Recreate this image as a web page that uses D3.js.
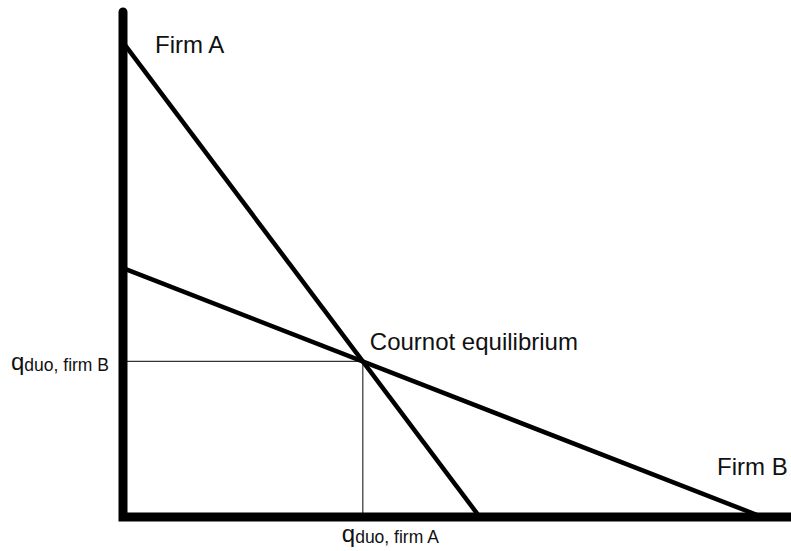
<!DOCTYPE html>
<html>
<head>
<meta charset="utf-8">
<script src="https://cdn.jsdelivr.net/npm/d3@7"></script>
<style>
  html, body { margin: 0; padding: 0; background: #fff; }
  svg { display: block; font-family: "Liberation Sans", Arial, sans-serif; }
</style>
</head>
<body>
<svg id="chart" width="791" height="551"></svg>
<script>
// Reaction functions (quantity of firm A on x, quantity of firm B on y)
const firmNames = ["Firm A", "Firm B"];
const firmA = [[0, 94], [53.4, 0]];
const firmB = [[0, 49.3], [95.7, 0]];
const equilibriumLabel = "Cournot equilibrium";
const xTickLabel = ["q", "duo, firm A"];
const yTickLabel = ["q", "duo, firm B"];

const svg = d3.select("#chart");
const x = d3.scaleLinear().domain([0, 100]).range([123, 791]);
const y = d3.scaleLinear().domain([0, 100]).range([517, 12]);

// intersection of the two reaction lines
function lineCoef(p) {
  const m = (p[1][1] - p[0][1]) / (p[1][0] - p[0][0]);
  return [m, p[0][1] - m * p[0][0]];
}
const [mA, bA] = lineCoef(firmA);
const [mB, bB] = lineCoef(firmB);
const eqX = (bB - bA) / (mA - mB);
const eqY = mA * eqX + bA;

// guide lines
svg.append("path")
  .attr("d", `M${x(0)},${y(eqY)} H${x(eqX)} V${y(0)}`)
  .attr("fill", "none")
  .attr("stroke", "#333")
  .attr("stroke-width", 1.2);

// reaction lines
const line = d3.line().x(d => x(d[0])).y(d => y(d[1]));
[firmA, firmB].forEach(d => {
  svg.append("path")
    .datum(d)
    .attr("d", line)
    .attr("fill", "none")
    .attr("stroke", "#000")
    .attr("stroke-width", 4.5);
});

// axes
svg.append("path")
  .attr("d", `M${x(0)},${y(100)} V${y(0)} H${x(100) + 10}`)
  .attr("fill", "none")
  .attr("stroke", "#000")
  .attr("stroke-width", 9)
  .attr("stroke-linecap", "round")
  .attr("stroke-linejoin", "miter");

// labels
svg.append("text").attr("x", 155).attr("y", 53)
  .attr("font-size", 24).attr("fill", "#111").text(firmNames[0]);
svg.append("text").attr("x", 717).attr("y", 475)
  .attr("font-size", 24).attr("fill", "#111").text(firmNames[1]);
svg.append("text").attr("x", x(eqX) + 7).attr("y", y(eqY) - 11)
  .attr("font-size", 24).attr("fill", "#111").text(equilibriumLabel);

const yl = svg.append("text").attr("x", 11).attr("y", y(eqY) + 9).attr("fill", "#111");
yl.append("tspan").attr("font-size", 24).text(yTickLabel[0]);
yl.append("tspan").attr("font-size", 17.5).attr("dy", 1).text(yTickLabel[1]);

const xl = svg.append("text").attr("x", x(eqX) - 21).attr("y", 542).attr("fill", "#111");
xl.append("tspan").attr("font-size", 24).text(xTickLabel[0]);
xl.append("tspan").attr("font-size", 17.5).attr("dy", 1).text(xTickLabel[1]);
</script>
</body>
</html>
